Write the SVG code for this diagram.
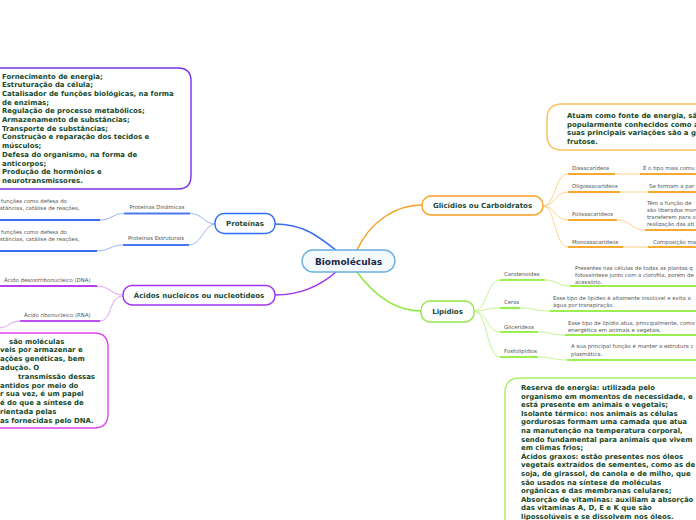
<svg xmlns="http://www.w3.org/2000/svg" width="696" height="520" viewBox="0 0 696 520">
<style>
.bg{fill:#ffffff}
.node{fill:#ffffff;stroke-width:1.4}
.nt{font-family:"DejaVu Sans",Verdana,sans-serif;font-weight:bold;font-size:7px;fill:#1c4a38;text-anchor:middle}
.bt{font-family:"DejaVu Sans",Verdana,sans-serif;font-weight:bold;font-size:6.95px;fill:#174a2c}
.st{font-family:"DejaVu Sans",Verdana,sans-serif;font-size:5.4px;fill:#555555}
.c{fill:none;stroke-linecap:round}
.u{fill:none;stroke-width:2.2}
</style>
<rect class="bg" x="0" y="0" width="696" height="520"/>

<g id="connectors">
  <path class="c" d="M275,224 C303,224 318,236 337,251" stroke="#3a6df0" stroke-width="1.5"/>
  <path class="c" d="M357,250 C370,222 395,205 422,205" stroke="#f7a020" stroke-width="1.5"/>
  <path class="c" d="M336,272 C320,286 300,295 275,295" stroke="#a030f0" stroke-width="1.5"/>
  <path class="c" d="M357,272 C374,295 396,311 421,311" stroke="#90e840" stroke-width="1.5"/>

  <path class="c" d="M215,224 C204,224 202,213 190,213.5" stroke="#9ab4f8" stroke-width="1"/>
  <path class="c" d="M215,224 C204,224 202,245 189,245" stroke="#9ab4f8" stroke-width="1"/>
  <line class="u" x1="124" y1="213.5" x2="190" y2="213.5" stroke="#4a78f2"/>
  <line class="u" x1="123" y1="245" x2="189" y2="245" stroke="#4a78f2"/>
  <path class="c" d="M124,213.5 C112,213.5 112,220 100,220" stroke="#9ab4f8" stroke-width="1"/>
  <path class="c" d="M123,245 C110,245 110,251 97,251" stroke="#9ab4f8" stroke-width="1"/>
  <line class="u" x1="0" y1="220" x2="100" y2="220" stroke="#3a6df0"/>
  <line class="u" x1="0" y1="251" x2="97" y2="251" stroke="#3a6df0"/>

  <path class="c" d="M123,295 C111,295 110,286 97,286" stroke="#dca0f4" stroke-width="1"/>
  <path class="c" d="M123,296 C108,296 113,321 100,321" stroke="#dca0f4" stroke-width="1"/>
  <line class="u" x1="0" y1="286" x2="97" y2="286" stroke="#b43ee8"/>
  <line class="u" x1="20" y1="321" x2="100" y2="321" stroke="#c24ef0"/>
  <path class="c" d="M20,321 C10,321 9,327 0,328" stroke="#dca0f4" stroke-width="1"/>

  <path class="c" d="M543,206 C556,206 554,174 568,174" stroke="#fcd48e" stroke-width="1"/>
  <path class="c" d="M543,206 C556,206 554,192 568,192" stroke="#fcd48e" stroke-width="1"/>
  <path class="c" d="M543,206 C556,206 554,220 568,220" stroke="#fcd48e" stroke-width="1"/>
  <path class="c" d="M543,206 C556,206 554,247 568,247" stroke="#fcd48e" stroke-width="1"/>
  <line class="u" x1="568" y1="174" x2="615" y2="174" stroke="#f8a82e"/>
  <line x1="615" y1="174" x2="640" y2="174" stroke="#fcd48e" stroke-width="1"/>
  <line class="u" x1="640" y1="174" x2="696" y2="174" stroke="#f8a82e"/>
  <line class="u" x1="568" y1="192" x2="620" y2="192" stroke="#f8a82e"/>
  <line x1="620" y1="192" x2="648" y2="192" stroke="#fcd48e" stroke-width="1"/>
  <line class="u" x1="648" y1="192" x2="696" y2="192" stroke="#f8a82e"/>
  <line class="u" x1="568" y1="220" x2="617" y2="220" stroke="#f8a82e"/>
  <path class="c" d="M617,220 C632,220 630,230 645,230" stroke="#fcd48e" stroke-width="1"/>
  <line class="u" x1="645" y1="230" x2="696" y2="230" stroke="#f8a82e"/>
  <line class="u" x1="568" y1="247" x2="623" y2="247" stroke="#f8a82e"/>
  <line x1="623" y1="247" x2="648" y2="247" stroke="#fde6c2" stroke-width="2"/>
  <line class="u" x1="648" y1="247" x2="696" y2="247" stroke="#f8a82e"/>

  <path class="c" d="M474,311 C488,311 486,280 500,280" stroke="#c4f494" stroke-width="1"/>
  <path class="c" d="M474,311 C488,311 486,308 500,308" stroke="#c4f494" stroke-width="1"/>
  <path class="c" d="M474,311 C488,311 486,332 500,332" stroke="#c4f494" stroke-width="1"/>
  <path class="c" d="M474,311 C488,311 486,357 500,357" stroke="#c4f494" stroke-width="1"/>
  <line class="u" x1="500" y1="280" x2="545" y2="280" stroke="#9cee50"/>
  <path class="c" d="M545,280 C558,280 557,286 570,286" stroke="#c4f494" stroke-width="1"/>
  <line class="u" x1="570" y1="286" x2="696" y2="286" stroke="#9cee50"/>
  <line class="u" x1="500" y1="308" x2="520" y2="308" stroke="#9cee50"/>
  <path class="c" d="M520,308 C535,308 535,311 550,311" stroke="#c4f494" stroke-width="1"/>
  <line class="u" x1="550" y1="311" x2="696" y2="311" stroke="#9cee50"/>
  <line class="u" x1="500" y1="332" x2="538" y2="332" stroke="#9cee50"/>
  <path class="c" d="M538,332 C552,332 551,335 565,335" stroke="#c4f494" stroke-width="1"/>
  <line class="u" x1="565" y1="335" x2="696" y2="335" stroke="#9cee50"/>
  <line class="u" x1="500" y1="357" x2="538" y2="357" stroke="#9cee50"/>
  <path class="c" d="M538,357 C552,357 553,360 567,360" stroke="#c4f494" stroke-width="1"/>
  <line class="u" x1="567" y1="360" x2="696" y2="360" stroke="#9cee50"/>
</g>

<g id="center">
  <rect x="302" y="250" width="93" height="22" rx="11" fill="#f4f9fd" stroke="#6aaee0" stroke-width="1.4"/>
  <text x="348.5" y="264.5" font-family="DejaVu Sans,Verdana,sans-serif" font-weight="bold" font-size="9px" fill="#1b2a4a" text-anchor="middle">Biomoléculas</text>
</g>

<g id="proteinas">
  <rect class="node" x="215" y="213.5" width="60" height="20" rx="9" stroke="#2e6bf5"/>
  <text class="nt" x="245" y="226">Proteínas</text>
</g>
<g id="proteinas-dinamicas">
  <text class="st" x="157" y="209" text-anchor="middle">Proteínas Dinâmicas</text>
</g>
<g id="proteinas-estruturais">
  <text class="st" x="156" y="240" text-anchor="middle">Proteínas Estruturais</text>
</g>
<g id="proteinas-dinamicas-desc">
  <text class="st" x="1" y="203">funções como defesa do</text>
  <text class="st" x="0" y="210">stâncias, catálise de reações,</text>
</g>
<g id="proteinas-estruturais-desc">
  <text class="st" x="1" y="234">funções como defesa do</text>
  <text class="st" x="0" y="241">stâncias, catálise de reações,</text>
</g>
<g id="proteinas-funcoes">
  <path d="M-20,68 H178 Q191,68 191,81 V176 Q191,189 178,189 H-20 Z" fill="#ffffff" stroke="#7b30e6" stroke-width="1.4"/>
  <text class="bt" x="2" y="78.5">Fornecimento de energia;</text>
  <text class="bt" x="2" y="87.2">Estruturação da célula;</text>
  <text class="bt" x="2" y="95.9">Catalisador de funções biológicas, na forma</text>
  <text class="bt" x="2" y="104.6">de enzimas;</text>
  <text class="bt" x="2" y="113.3">Regulação de processo metabólicos;</text>
  <text class="bt" x="2" y="122">Armazenamento de substâncias;</text>
  <text class="bt" x="2" y="130.7">Transporte de substâncias;</text>
  <text class="bt" x="2" y="139.4">Construção e reparação dos tecidos e</text>
  <text class="bt" x="2" y="148.1">músculos;</text>
  <text class="bt" x="2" y="156.8">Defesa do organismo, na forma de</text>
  <text class="bt" x="2" y="165.5">anticorpos;</text>
  <text class="bt" x="2" y="174.2">Produção de hormônios e</text>
  <text class="bt" x="2" y="182.9">neurotransmissores.</text>
</g>

<g id="acidos">
  <rect class="node" x="123" y="285.5" width="152" height="19.5" rx="9" stroke="#a030f0"/>
  <text class="nt" x="199" y="298">Ácidos nucleicos ou nucleotídeos</text>
</g>
<g id="dna">
  <text class="st" x="4" y="282">Ácido desoxirribonucleico (DNA)</text>
</g>
<g id="rna">
  <text class="st" x="24" y="317">Ácido ribonucleico (RNA)</text>
</g>
<g id="acidos-desc">
  <path d="M-20,333 H94 Q108,333 108,347 V414 Q108,428 94,428 H-20 Z" fill="#ffffff" stroke="#dd44ee" stroke-width="1.4"/>
  <text class="bt" x="9" y="343.5">são moléculas</text>
  <text class="bt" x="0" y="352.3">veis por armazenar e</text>
  <text class="bt" x="0" y="361.1">ações genéticas, bem</text>
  <text class="bt" x="0" y="369.9">adução. O</text>
  <text class="bt" x="18" y="378.7">transmissão dessas</text>
  <text class="bt" x="0" y="387.5">antidos por meio do</text>
  <text class="bt" x="0" y="396.3">r sua vez, é um papel</text>
  <text class="bt" x="0" y="405.1">é do que a síntese de</text>
  <text class="bt" x="0" y="413.9">rientada pelas</text>
  <text class="bt" x="0" y="422.7">as fornecidas pelo DNA.</text>
</g>

<g id="glicidios">
  <rect class="node" x="422" y="196" width="121" height="19" rx="9" stroke="#f7a020"/>
  <text class="nt" x="482.5" y="208">Glicídios ou Carboidratos</text>
</g>
<g id="glicidios-desc">
  <path d="M716,104 H562 Q547,104 547,119 V135 Q547,150 562,150 H716 Z" fill="#ffffff" stroke="#fbc05a" stroke-width="1.4"/>
  <text class="bt" x="567" y="118">Atuam como fonte de energia, são</text>
  <text class="bt" x="567" y="126.5">popularmente conhecidos como a</text>
  <text class="bt" x="567" y="135">suas principais variações são a g</text>
  <text class="bt" x="567" y="143.5">frutose.</text>
</g>
<g id="dissacarideos">
  <text class="st" x="572" y="170">Dissacarídeos</text>
  <text class="st" x="643" y="170">É o tipo mais comu</text>
</g>
<g id="oligossacarideos">
  <text class="st" x="572" y="188">Oligossacarídeos</text>
  <text class="st" x="649" y="188">Se formam a par</text>
</g>
<g id="polissacarideos">
  <text class="st" x="572" y="216">Polissacarídeos</text>
  <text class="st" x="647" y="205">Têm a função de</text>
  <text class="st" x="647" y="212">são liberados mon</text>
  <text class="st" x="647" y="219">transferem para o</text>
  <text class="st" x="647" y="226">realização das ati</text>
</g>
<g id="monossacarideos">
  <text class="st" x="572" y="243.5">Monossacarídeos</text>
  <text class="st" x="653" y="243.5">Composição ma</text>
</g>

<g id="lipidios">
  <rect class="node" x="421" y="301" width="53" height="21" rx="9" stroke="#90e840"/>
  <text class="nt" x="447.5" y="314">Lipídios</text>
</g>
<g id="carotenoides">
  <text class="st" x="504" y="276">Carotenoides</text>
  <text class="st" x="575" y="270">Presentes nas células de todas as plantas q</text>
  <text class="st" x="575" y="277">fotossíntese junto com a clorofila, porém de</text>
  <text class="st" x="575" y="284">acessório.</text>
</g>
<g id="ceras">
  <text class="st" x="504" y="304">Ceras</text>
  <text class="st" x="553" y="300">Esse tipo de lipídeo é altamente insolúvel e evita a</text>
  <text class="st" x="553" y="307">água por transpiração.</text>
</g>
<g id="glicerideos">
  <text class="st" x="504" y="328.5">Glicerídeos</text>
  <text class="st" x="568" y="325">Esse tipo de lipídio atua, principalmente, como</text>
  <text class="st" x="568" y="332">energética em animais e vegetais.</text>
</g>
<g id="fosfolipidios">
  <text class="st" x="504" y="353">Fosfolipídios</text>
  <text class="st" x="571" y="348">A sua principal função é manter a estrutura c</text>
  <text class="st" x="571" y="355.5">plasmática.</text>
</g>
<g id="lipidios-desc">
  <path d="M716,378 H520 Q505,378 505,393 V540 H716 Z" fill="#ffffff" stroke="#a8f060" stroke-width="1.4"/>
  <text class="bt" x="521" y="390">Reserva de energia: utilizada pelo</text>
  <text class="bt" x="521" y="398.6">organismo em momentos de necessidade, e</text>
  <text class="bt" x="521" y="407.2">está presente em animais e vegetais;</text>
  <text class="bt" x="521" y="415.8">Isolante térmico: nos animais as células</text>
  <text class="bt" x="521" y="424.4">gordurosas formam uma camada que atua</text>
  <text class="bt" x="521" y="433">na manutenção na temperatura corporal,</text>
  <text class="bt" x="521" y="441.6">sendo fundamental para animais que vivem</text>
  <text class="bt" x="521" y="450.2">em climas frios;</text>
  <text class="bt" x="521" y="458.8">Ácidos graxos: estão presentes nos óleos</text>
  <text class="bt" x="521" y="467.4">vegetais extraídos de sementes, como as de</text>
  <text class="bt" x="521" y="476">soja, de girassol, de canola e de milho, que</text>
  <text class="bt" x="521" y="484.6">são usados na síntese de moléculas</text>
  <text class="bt" x="521" y="493.2">orgânicas e das membranas celulares;</text>
  <text class="bt" x="521" y="501.8">Absorção de vitaminas: auxiliam a absorção</text>
  <text class="bt" x="521" y="510.4">das vitaminas A, D, E e K que são</text>
  <text class="bt" x="521" y="519">lipossolúveis e se dissolvem nos óleos.</text>
</g>
</svg>
